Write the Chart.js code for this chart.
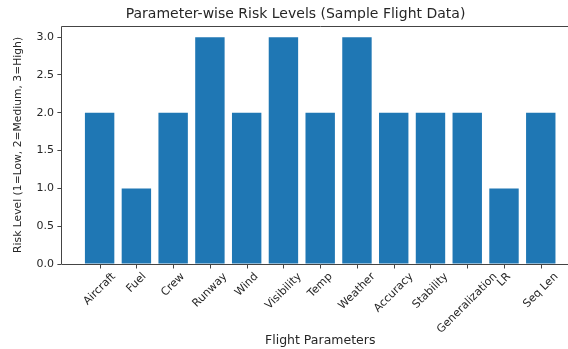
<!DOCTYPE html>
<html lang="en">
<head>
  <meta charset="UTF-8" />
  <title>Parameter-wise Risk Levels</title>
  <script src="https://cdn.jsdelivr.net/npm/chart.js"></script>
  <style>
    html, body { margin: 0; padding: 0; background: #fff; overflow: hidden; }
    #wrap { width: 568px; height: 349px; overflow: hidden; }
  </style>
</head>
<body>
<div id="wrap"><canvas id="riskChart" width="584" height="349"></canvas></div>

<script>
const parameters = ['Aircraft', 'Fuel', 'Crew', 'Runway', 'Wind', 'Visibility', 'Temp',
  'Weather', 'Accuracy', 'Stability', 'Generalization', 'LR', 'Seq Len'];
const riskLevels = [2, 1, 2, 3, 2, 3, 2, 3, 2, 2, 2, 1, 2];
const yTicks = [0, 0.5, 1, 1.5, 2, 2.5, 3];

const FONT = "'DejaVu Sans', sans-serif";
const TEXT = '#262626';

// matplotlib-like margins around the bars
const xMin = -0.4 - 0.05 * (parameters.length - 0.2);
const xMax = parameters.length - 0.6 + 0.05 * (parameters.length - 0.2);

// spines, x tick marks and centred rotated category labels, matplotlib style
const mplLabels = {
  id: 'mplLabels',
  afterDraw(chart) {
    const ctx = chart.ctx, area = chart.chartArea, xs = chart.scales.x;
    const l = Math.round(area.left) + 0.5, t = Math.round(area.top) + 0.5;
    const r = Math.round(area.right) + 0.5, b = Math.round(area.bottom) + 0.5;
    ctx.save();
    ctx.strokeStyle = '#444';
    ctx.lineWidth = 1;
    ctx.beginPath();
    ctx.moveTo(r, t); ctx.lineTo(l, t); ctx.lineTo(l, b); ctx.lineTo(r, b);
    parameters.forEach((p, i) => {
      const px = Math.round(xs.getPixelForValue(i)) + 0.5;
      ctx.moveTo(px, b);
      ctx.lineTo(px, b + 4);
    });
    ctx.stroke();

    const h = 11;
    ctx.font = h + 'px ' + FONT;
    ctx.fillStyle = TEXT;
    ctx.textAlign = 'center';
    ctx.textBaseline = 'middle';
    parameters.forEach((name, i) => {
      const px = xs.getPixelForValue(i);
      const w = ctx.measureText(name).width;
      const boxH = (w + h) * Math.SQRT1_2;
      ctx.save();
      ctx.translate(px, area.bottom + 7 + boxH / 2);
      ctx.rotate(-Math.PI / 4);
      ctx.fillText(name, 0, 0);
      ctx.restore();
    });
    ctx.restore();
  }
};

new Chart(document.getElementById('riskChart'), {
  type: 'bar',
  data: {
    datasets: [{
      data: riskLevels.map((v, i) => ({ x: i, y: v })),
      backgroundColor: '#1f77b4',
      borderWidth: 0,
      barPercentage: 0.8,
      categoryPercentage: 1.0
    }]
  },
  options: {
    responsive: false,
    animation: false,
    layout: { padding: { left: 12, right: 5, top: 0, bottom: 0.5 } },
    plugins: {
      legend: { display: false },
      tooltip: { enabled: false },
      title: {
        display: true,
        text: 'Parameter-wise Risk Levels (Sample Flight Data)',
        color: TEXT,
        font: { family: FONT, size: 14, weight: 'normal' },
        padding: { top: 6, bottom: 3 }
      }
    },
    scales: {
      x: {
        type: 'linear',
        min: xMin,
        max: xMax,
        offset: false,
        grid: { display: false, drawTicks: false },
        border: { display: false },
        ticks: { display: false },
        afterBuildTicks: axis => { axis.ticks = parameters.map((p, i) => ({ value: i })); },
        title: {
          display: true,
          text: 'Flight Parameters',
          color: TEXT,
          font: { family: FONT, size: 12.5 },
          padding: { top: 69.5, bottom: 0 }
        }
      },
      y: {
        min: 0,
        max: 3.15,
        afterBuildTicks: axis => { axis.ticks = yTicks.map(v => ({ value: v })); },
        grid: { drawOnChartArea: false, tickLength: 4, color: '#444' },
        border: { display: false },
        ticks: {
          color: TEXT,
          font: { family: FONT, size: 11 },
          padding: 3.5,
          callback: v => v.toFixed(1)
        },
        title: {
          display: true,
          text: 'Risk Level (1=Low, 2=Medium, 3=High)',
          color: TEXT,
          font: { family: FONT, size: 10.75 },
          padding: { top: 0, bottom: 8 }
        }
      }
    }
  },
  plugins: [mplLabels]
});
</script>
</body>
</html>
